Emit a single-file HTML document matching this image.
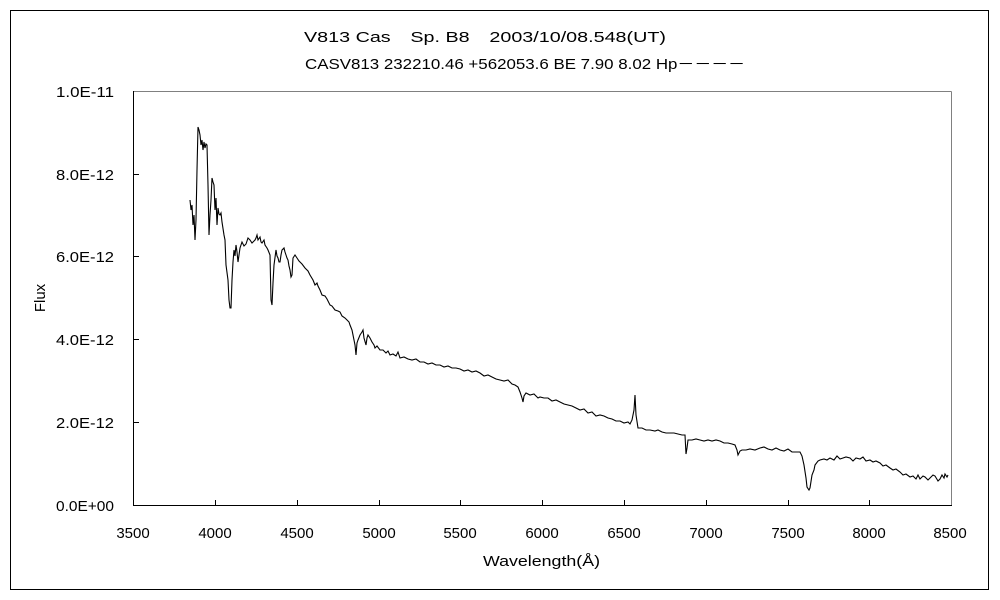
<!DOCTYPE html>
<html><head><meta charset="utf-8"><style>
body{margin:0;background:#fff;}
svg{display:block;}
text{font-family:"Liberation Sans","Noto Sans CJK JP",sans-serif;font-size:15px;fill:#000;}
</style></head><body>
<svg width="1000" height="600" xmlns="http://www.w3.org/2000/svg">
<rect x="0" y="0" width="1000" height="600" fill="#fff"/>
<rect x="10.5" y="10.5" width="978" height="579" fill="none" stroke="#000" stroke-width="1"/>
<text x="304" y="42" textLength="362" lengthAdjust="spacingAndGlyphs">V813 Cas　Sp. B8　2003/10/08.548(UT)</text>
<text x="305" y="69" textLength="440" lengthAdjust="spacingAndGlyphs">CASV813 232210.46 +562053.6 BE 7.90 8.02 Hp－－－－</text>
<line x1="133.5" y1="91.5" x2="951.5" y2="91.5" stroke="#808080"/>
<line x1="951.5" y1="91.5" x2="951.5" y2="505.5" stroke="#808080"/>
<line x1="133.5" y1="91" x2="133.5" y2="506" stroke="#000"/>
<line x1="133" y1="505.5" x2="952" y2="505.5" stroke="#000"/>
<g stroke="#000">
<line x1="215.5" y1="505" x2="215.5" y2="500"/><line x1="297.5" y1="505" x2="297.5" y2="500"/>
<line x1="379.5" y1="505" x2="379.5" y2="500"/><line x1="460.5" y1="505" x2="460.5" y2="500"/>
<line x1="542.5" y1="505" x2="542.5" y2="500"/><line x1="624.5" y1="505" x2="624.5" y2="500"/>
<line x1="706.5" y1="505" x2="706.5" y2="500"/><line x1="788.5" y1="505" x2="788.5" y2="500"/>
<line x1="869.5" y1="505" x2="869.5" y2="500"/>
<line x1="133" y1="422.5" x2="139" y2="422.5"/><line x1="133" y1="339.5" x2="139" y2="339.5"/>
<line x1="133" y1="256.5" x2="139" y2="256.5"/><line x1="133" y1="174.5" x2="139" y2="174.5"/>
</g>
<g>
<text x="56" y="511" textLength="58" lengthAdjust="spacingAndGlyphs">0.0E+00</text>
<text x="56" y="428" textLength="58" lengthAdjust="spacingAndGlyphs">2.0E-12</text>
<text x="56" y="345" textLength="58" lengthAdjust="spacingAndGlyphs">4.0E-12</text>
<text x="56" y="262" textLength="58" lengthAdjust="spacingAndGlyphs">6.0E-12</text>
<text x="56" y="180" textLength="58" lengthAdjust="spacingAndGlyphs">8.0E-12</text>
<text x="56" y="97" textLength="58" lengthAdjust="spacingAndGlyphs">1.0E-11</text>
</g>
<g text-anchor="middle">
<text x="133" y="538">3500</text><text x="215" y="538">4000</text><text x="297" y="538">4500</text>
<text x="379" y="538">5000</text><text x="460" y="538">5500</text><text x="542" y="538">6000</text>
<text x="624" y="538">6500</text><text x="706" y="538">7000</text><text x="788" y="538">7500</text>
<text x="869" y="538">8000</text><text x="950" y="538">8500</text>
</g>
<text x="483" y="566" textLength="117" lengthAdjust="spacingAndGlyphs">Wavelength(Å)</text>
<text x="45" y="298" text-anchor="middle" transform="rotate(-90 45 298)">Flux</text>
<polyline fill="none" stroke="#000" stroke-width="1.1" points="190,200 191,210 192,205 193,225 194,215 195,240 196,220 197,170 198,127 199,130 200,135 201,145 202,140 203,150 204,142 205,148 206,144 207,145 208,185 209,235 210,215 211,200 212,178 213,182 214,185 215,210 216,198 217,225 218,208 219,214 220,215 221,213 222,222 224,235 225,240 226,265 228,280 229,300 230,308 231,308 232,280 233,262 234,250 235,256 236,245 237,252 238,262 239,255 240,248 242,242 244,246 246,244 248,238 250,240 252,243 255,240 256,238 257,235 258,240 260,237 261,242 262,243 264,240 265,245 267,248 268,250 270,255 271,300 272,305 273,283 274,265 276,250 277,256 278,258 279,262 280,262 281,255 282,250 284,248 285,252 286,255 287,258 288,260 289,266 290,270 291,277 292,275 293,258 295,255 297,258 299,261 300,262 302,264 305,268 308,271 310,275 313,280 315,285 317,283 318,286 320,290 322,295 325,296 327,299 330,305 332,306 335,310 338,311 340,312 342,316 345,318 347,320 349,322 350,325 352,330 353,335 354,340 355,345 356,355 357,343 358,340 360,335 362,332 363,330 364,338 366,345 367,338 368,335 370,338 372,342 374,345 375,348 377,346 380,350 383,350 386,353 388,351 390,355 393,354 396,356 398,352 400,358 404,357 408,359 412,360 416,359 420,362 424,362 428,364 432,363 436,365 440,365 444,367 448,366 452,368 456,368 460,369 464,371 468,370 472,372 476,371 480,373 484,376 488,375 492,377 496,379 500,380 504,381 508,380 512,384 515,385 518,387 520,392 522,398 523,402 524,396 526,393 530,395 534,394 538,398 540,397 544,398 548,398 552,401 556,400 560,402 564,404 568,405 572,406 576,408 580,410 584,409 588,413 592,412 596,416 600,415 604,416 608,418 612,419 616,421 620,421 624,423 628,422 630,424 632,420 634,410 635,395 636,415 638,428 642,428 646,430 650,430 655,431 658,430 662,432 666,433 670,433 674,433 678,434 682,435 685,435 686,454 687,448 688,440 692,440 696,439 700,440 704,441 708,440 712,441 716,440 720,441 724,443 728,443 732,444 735,445 737,450 738,455 740,451 742,450 746,450 750,449 755,450 760,448 764,447 768,449 772,450 776,448 780,450 784,451 788,449 792,452 796,452 800,452 802,456 804,465 806,478 807,487 809,490 810,488 812,475 814,470 815,465 818,461 820,460 824,459 827,460 830,458 834,460 837,456 840,459 843,458 846,457 850,458 853,461 856,458 860,459 863,457 866,461 870,460 873,462 876,461 880,463 883,466 886,465 890,468 893,470 896,469 900,472 903,475 906,474 910,477 913,476 916,479 918,475 920,479 923,476 925,477 928,480 930,478 933,475 935,476 938,481 940,479 942,475 944,478 945,474 947,477 948,475"/>
</svg>
</body></html>
